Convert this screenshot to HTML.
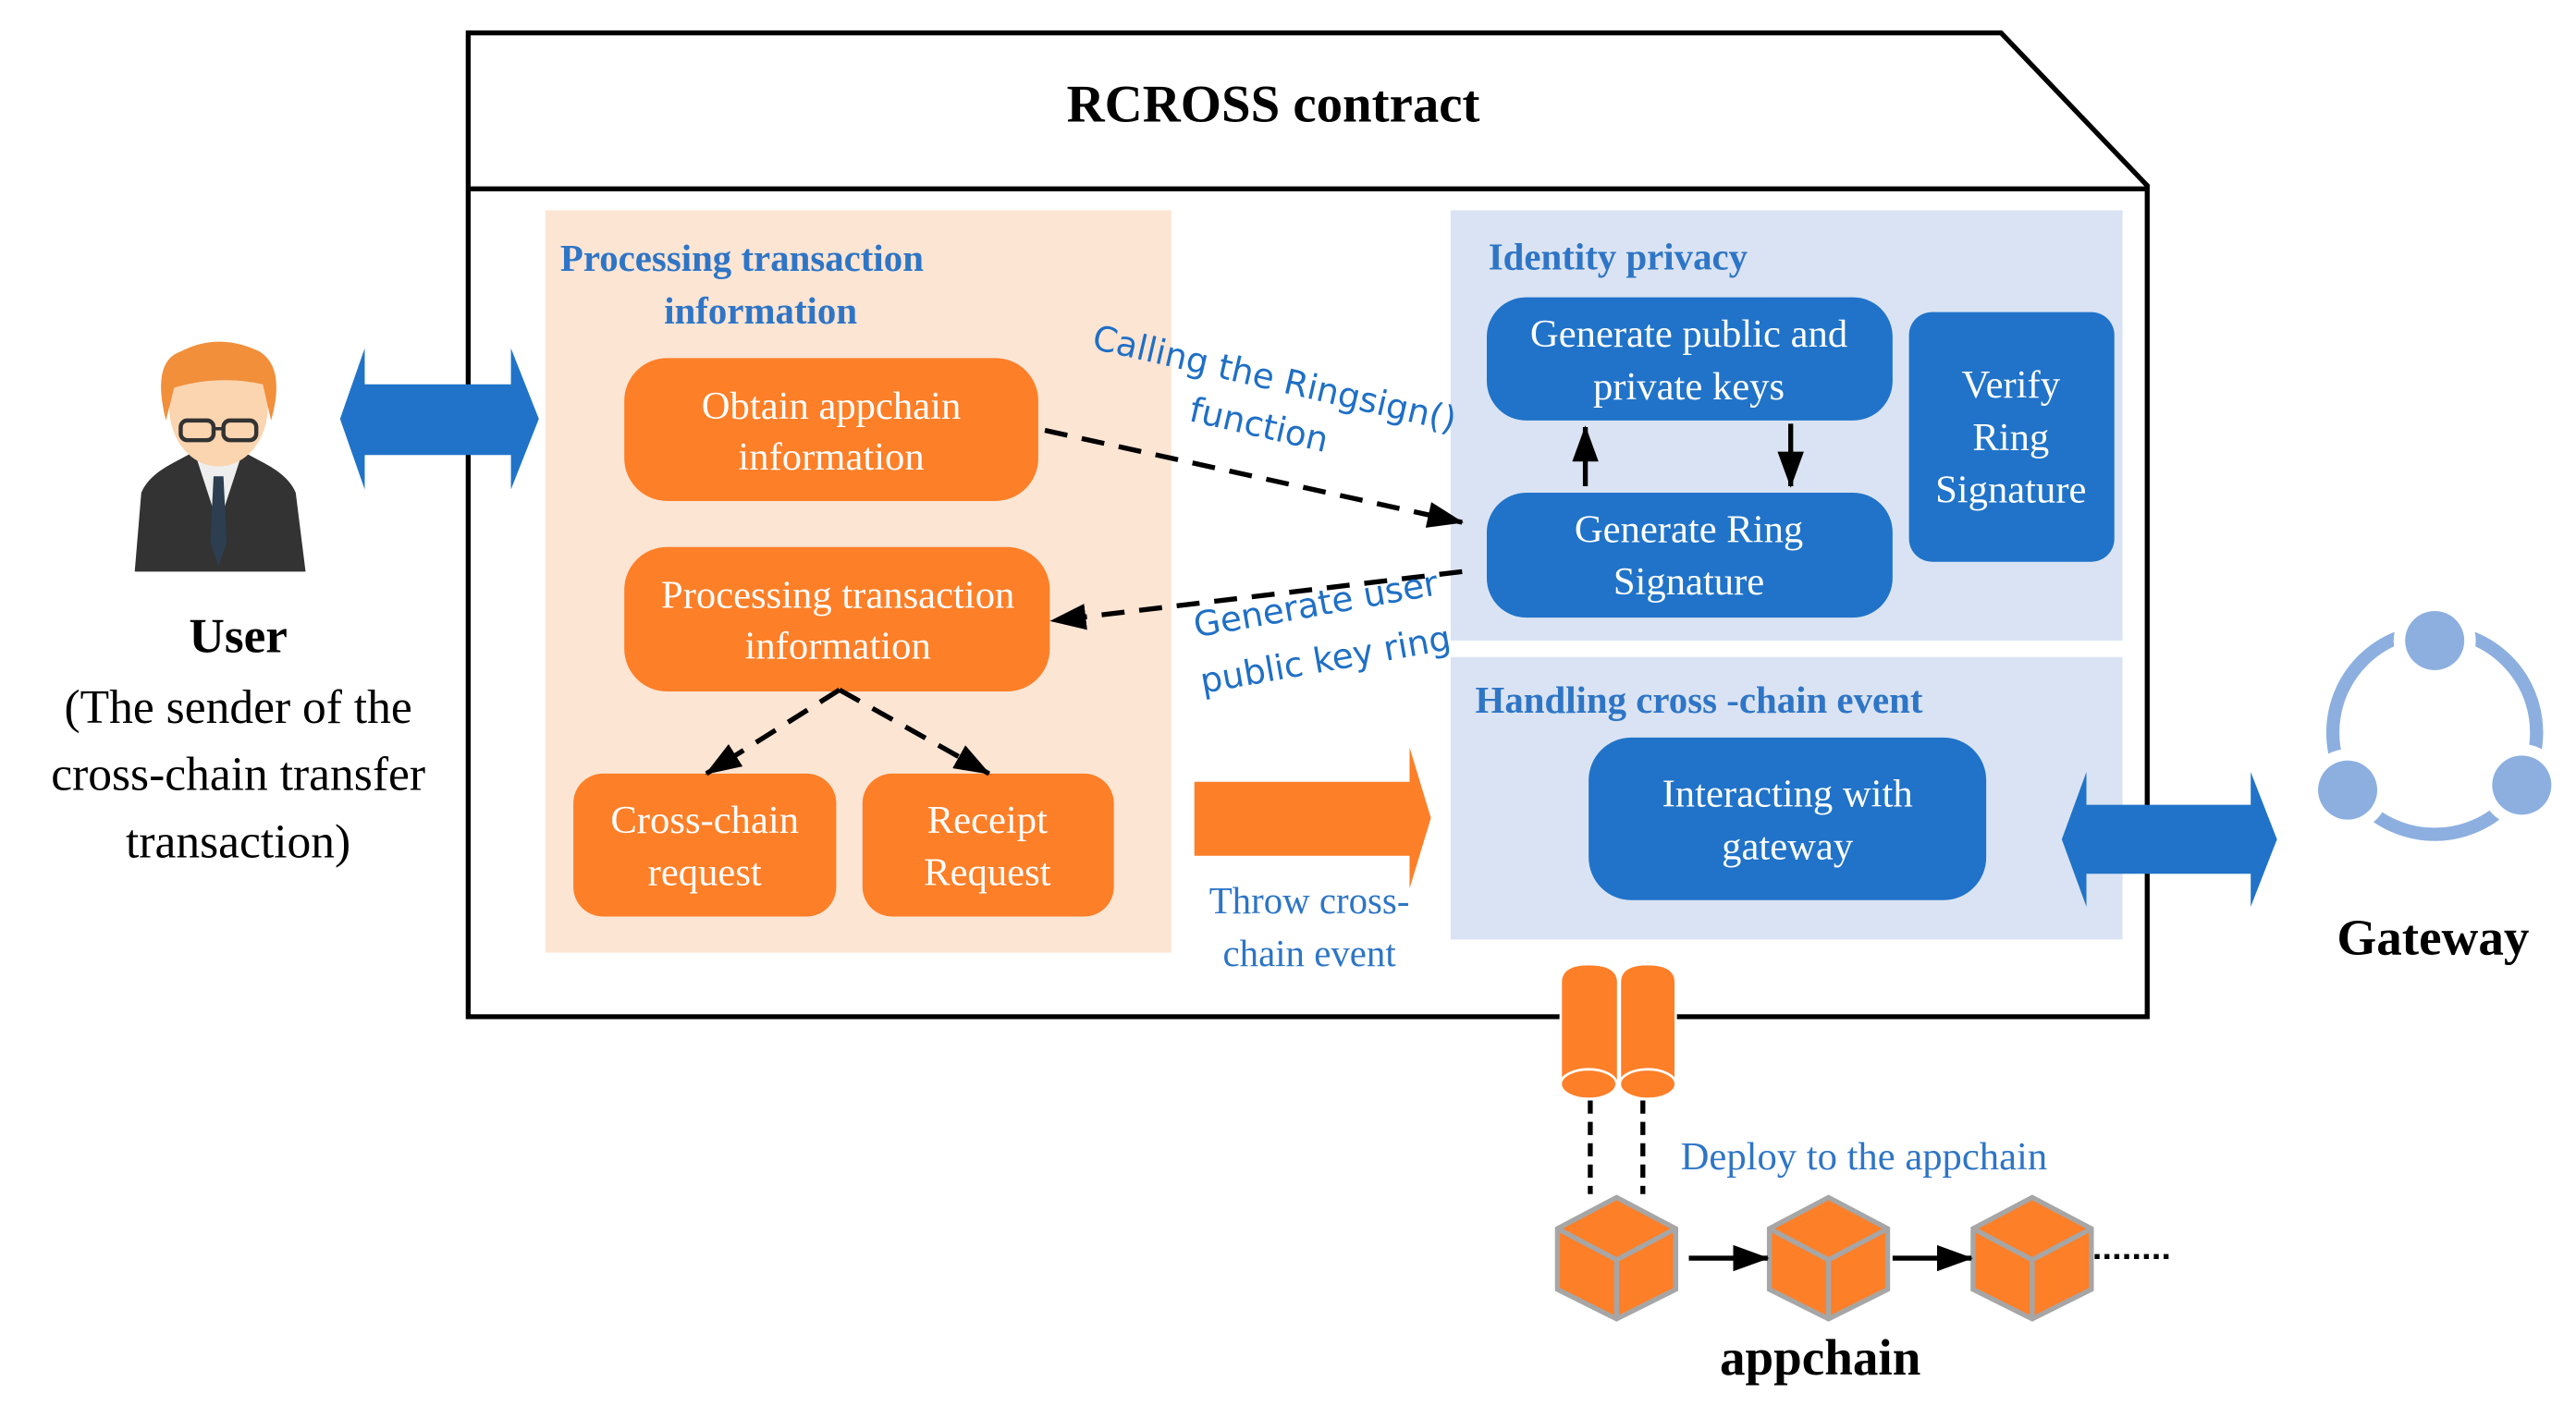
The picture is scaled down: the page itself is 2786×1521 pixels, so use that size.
<!DOCTYPE html>
<html><head><meta charset="utf-8"><style>
html,body{margin:0;padding:0;background:#fff;}
svg{display:block;}
.serif{font-family:"Liberation Serif",serif;}
.sans{font-family:"DejaVu Sans","Liberation Sans",sans-serif;}
</style></head><body>
<svg width="2786" height="1521" viewBox="0 0 1568 856" preserveAspectRatio="none" xmlns="http://www.w3.org/2000/svg">
<defs>
<marker id="ahb" markerWidth="22" markerHeight="16" refX="21" refY="8" orient="auto" markerUnits="userSpaceOnUse"><path d="M0,0 L22,8 L0,16 z" fill="#000"/></marker>
</defs>
<path d="M285,20 L1218,20 L1307,113 L1307,619 L285,619 Z" fill="#fff" stroke="#000" stroke-width="3"/>
<line x1="285" y1="115" x2="1307" y2="115" stroke="#000" stroke-width="3"/>
<text x="775" y="74" text-anchor="middle" class="serif" font-size="32" font-weight="bold">RCROSS contract</text>

<rect x="332" y="128" width="381" height="452" fill="#fde5d4"/>
<rect x="883" y="128" width="409" height="262" fill="#dae3f3"/>
<rect x="883" y="400" width="409" height="172" fill="#dae3f3"/>

<text x="341" y="165" class="serif" font-size="23" font-weight="bold" fill="#2e75c6">Processing transaction</text>
<text x="463" y="197" text-anchor="middle" class="serif" font-size="23" font-weight="bold" fill="#2e75c6">information</text>
<text x="906" y="164" class="serif" font-size="23" font-weight="bold" fill="#2e75c6">Identity privacy</text>
<text x="898" y="434" class="serif" font-size="23" font-weight="bold" fill="#2e75c6">Handling cross -chain event</text>

<g fill="#fd7f28">
<rect x="380" y="218" width="252" height="87" rx="26"/>
<rect x="380" y="333" width="259" height="88" rx="26"/>
<rect x="349" y="471" width="160" height="87" rx="18"/>
<rect x="525" y="471" width="153" height="87" rx="18"/>
</g>
<g class="serif" font-size="24" fill="#fff" text-anchor="middle">
<text x="506" y="255">Obtain appchain</text><text x="506" y="286">information</text>
<text x="510" y="370">Processing transaction</text><text x="510" y="401">information</text>
<text x="429" y="507">Cross-chain</text><text x="429" y="539">request</text>
<text x="601" y="507">Receipt</text><text x="601" y="539">Request</text>
</g>
<g stroke="#000" stroke-width="3" stroke-dasharray="14,9" fill="none">
<path d="M511,420 L430,471" marker-end="url(#ahb)"/>
<path d="M511,420 L602,471" marker-end="url(#ahb)"/>
<path d="M636,262 L890,318" marker-end="url(#ahb)"/>
<path d="M890,348 L640,378" marker-end="url(#ahb)"/>
</g>

<g fill="#2073c8">
<rect x="905" y="181" width="247" height="75" rx="24"/>
<rect x="905" y="300" width="247" height="76" rx="24"/>
<rect x="1162" y="190" width="125" height="152" rx="14"/>
<rect x="967" y="449" width="242" height="99" rx="26"/>
</g>
<g class="serif" font-size="24" fill="#fff" text-anchor="middle">
<text x="1028" y="211">Generate public and</text><text x="1028" y="243">private keys</text>
<text x="1028" y="330">Generate Ring</text><text x="1028" y="362">Signature</text>
<text x="1224" y="242">Verify</text><text x="1224" y="274">Ring</text><text x="1224" y="306">Signature</text>
<text x="1088" y="491">Interacting with</text><text x="1088" y="523">gateway</text>
</g>
<g stroke="#000" stroke-width="3">
<line x1="965" y1="296" x2="965" y2="260" marker-end="url(#ahb)"/>
<line x1="1090" y1="258" x2="1090" y2="296" marker-end="url(#ahb)"/>
</g>

<g class="sans" font-size="21" fill="#1f6fc5">
<text transform="translate(664,212) rotate(13)">Calling the Ringsign()</text>
<text transform="translate(723,256) rotate(13)">function</text>
<text transform="translate(728,388) rotate(-10)">Generate user</text>
<text transform="translate(732,422) rotate(-10)">public key ring</text>
</g>

<path d="M727,476 L858,476 L858,455 L871,498 L858,541 L858,521 L727,521 Z" fill="#fd7f28"/>
<text x="797" y="556" text-anchor="middle" class="serif" font-size="23" fill="#2e75c6">Throw cross-</text>
<text x="797" y="588" text-anchor="middle" class="serif" font-size="23" fill="#2e75c6">chain event</text>

<path d="M207,255 L222,212 L222,234 L311,234 L311,212 L328,255 L311,298 L311,277 L222,277 L222,298 Z" fill="#2073c8"/>
<path d="M1255,511 L1270,470 L1270,490 L1370,490 L1370,470 L1386,511 L1370,552 L1370,532 L1270,532 L1270,552 Z" fill="#2073c8"/>

<g>
<path d="M82,348 L86,300 Q90,290 105,282 L120,274 L146,274 L161,282 Q176,290 180,300 L186,348 Z" fill="#333"/>
<path d="M118,274 L133,320 L148,274 Z" fill="#eee"/>
<path d="M130,290 L136,290 L138,330 L133,345 L128,330 Z" fill="#2c3e50"/>
<rect x="123" y="255" width="20" height="22" fill="#f7cda6"/>
<ellipse cx="133" cy="248" rx="30" ry="36" fill="#fbd5b0"/>
<path d="M101,256 Q92,220 110,214 Q133,202 158,214 Q174,224 165,256 L160,234 Q133,228 106,236 Z" fill="#f18f3b"/>
<rect x="110" y="256" width="20" height="12" rx="4" fill="none" stroke="#333" stroke-width="2.5"/>
<rect x="136" y="256" width="20" height="12" rx="4" fill="none" stroke="#333" stroke-width="2.5"/>
<line x1="130" y1="261" x2="136" y2="261" stroke="#333" stroke-width="2"/>
</g>
<text x="145" y="397" text-anchor="middle" class="serif" font-size="30" font-weight="bold">User</text>
<g class="serif" font-size="29" text-anchor="middle">
<text x="145" y="440">(The sender of the</text>
<text x="145" y="481">cross-chain transfer</text>
<text x="145" y="522">transaction)</text>
</g>

<circle cx="1482" cy="446" r="62" fill="none" stroke="#8cafe0" stroke-width="8"/>
<circle cx="1482" cy="390" r="25" fill="#fff"/><circle cx="1429" cy="481" r="25" fill="#fff"/><circle cx="1535" cy="478" r="25" fill="#fff"/>
<circle cx="1482" cy="390" r="18" fill="#8cafe0"/><circle cx="1429" cy="481" r="18" fill="#8cafe0"/><circle cx="1535" cy="478" r="18" fill="#8cafe0"/>
<text x="1481" y="581" text-anchor="middle" class="serif" font-size="31" font-weight="bold">Gateway</text>

<g fill="#fd7f28" stroke="#fff" stroke-width="1.5">
<path d="M950,598 Q950,587 967,587 Q985,587 985,598 L985,660 L950,660 Z"/>
<ellipse cx="967" cy="660" rx="17" ry="9"/>
<path d="M986,598 Q986,587 1003,587 Q1020,587 1020,598 L1020,660 L986,660 Z"/>
<ellipse cx="1003" cy="660" rx="17" ry="9"/>
</g>
<g stroke="#000" stroke-width="3" stroke-dasharray="8,5">
<line x1="968" y1="670" x2="968" y2="727"/>
<line x1="1000" y1="670" x2="1000" y2="727"/>
</g>
<text x="1023" y="712" class="serif" font-size="24" fill="#2e75c6">Deploy to the appchain</text>

<g stroke="#a6a6a6" stroke-width="3" fill="#fd7f28">
<g transform="translate(984,0)"><path d="M0,729 L36,748 L36,785 L0,803 L-36,785 L-36,748 Z"/><path d="M-36,748 L0,767 L36,748 M0,767 L0,803" fill="none"/></g>
<g transform="translate(1113,0)"><path d="M0,729 L36,748 L36,785 L0,803 L-36,785 L-36,748 Z"/><path d="M-36,748 L0,767 L36,748 M0,767 L0,803" fill="none"/></g>
<g transform="translate(1237,0)"><path d="M0,729 L36,748 L36,785 L0,803 L-36,785 L-36,748 Z"/><path d="M-36,748 L0,767 L36,748 M0,767 L0,803" fill="none"/></g>
</g>
<g stroke="#000" stroke-width="3">
<line x1="1028" y1="766" x2="1076" y2="766" marker-end="url(#ahb)"/>
<line x1="1152" y1="766" x2="1200" y2="766" marker-end="url(#ahb)"/>
<line x1="1275" y1="765" x2="1320" y2="765" stroke-dasharray="3,3"/>
</g>
<text x="1108" y="837" text-anchor="middle" class="serif" font-size="31" font-weight="bold">appchain</text>
</svg>
</body></html>
